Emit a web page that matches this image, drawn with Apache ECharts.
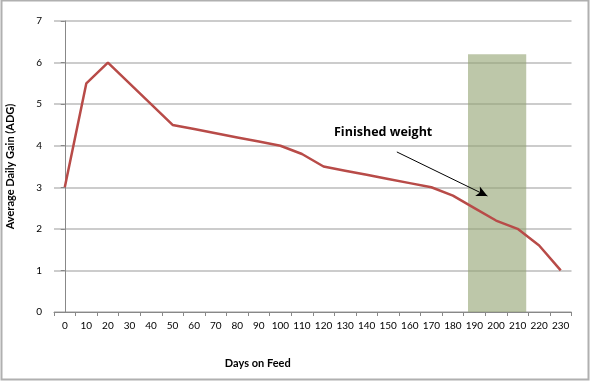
<!DOCTYPE html>
<html><head><meta charset="utf-8">
<script src="https://cdn.jsdelivr.net/npm/echarts@6/dist/echarts.min.js"></script>
<style>html,body{margin:0;padding:0;background:#fff}#c{width:591px;height:382px}</style>
</head><body><div id="c"></div>
<script>
const days = ['0','10','20','30','40','50','60','70','80','90','100','110','120','130','140','150','160','170','180','190','200','210','220','230'];
const adg = [3.0,5.5,6.0,5.5,5.0,4.5,4.4,4.3,4.2,4.1,4.0,3.8,3.5,3.4,3.3,3.2,3.1,3.0,2.8,2.5,2.2,2.0,1.6,1.0];
const finishedRange = [187, 214];   // days
const finishedTop = 6.2;
const arrowFrom = [154, 3.85];
const arrowTo = [196, 2.79];

const chart = echarts.init(document.getElementById('c'), null, {renderer:'canvas'});
const font = 'Lato, "Open Sans", sans-serif';
chart.setOption({
  animation:false,
  backgroundColor:'#fff',
  grid:{left:54, right:19.5, top:21, bottom:70, containLabel:false, outerBoundsMode:'none'},
  graphic:[
    {type:'rect', shape:{x:1.5,y:0.5,width:587,height:379}, style:{fill:'none', stroke:'#b0b0b0', lineWidth:2}, z:-1},
    {type:'text', left:334, top:126, style:{text:'Finished weight', font:'bold 12.5px "Open Sans", sans-serif', fill:'#000'}}
  ],
  xAxis:[{
    type:'category', data:days, boundaryGap:true,
    name:'Days on Feed', nameLocation:'middle', nameGap:46,
    nameTextStyle:{fontFamily:font, fontWeight:'bold', fontSize:11, color:'#000', padding:[0,0,0,-110]},
    axisLine:{lineStyle:{color:'#888', width:1}},
    axisTick:{show:true, length:4, lineStyle:{color:'#888'}},
    axisLabel:{fontFamily:font, fontSize:10, color:'#000', margin:9, interval:0},
    splitLine:{show:false}
  },{
    type:'value', min:-5, max:235, show:false
  }],
  yAxis:{
    type:'value', min:0, max:7, interval:1,
    name:'Average Daily Gain (ADG)', nameLocation:'middle', nameGap:38, nameRotate:90,
    nameTextStyle:{fontFamily:font, fontWeight:'bold', fontSize:11, color:'#000'},
    axisLine:{show:true, lineStyle:{color:'#888', width:1}},
    axisTick:{show:true, length:4, lineStyle:{color:'#888'}},
    axisLabel:{fontFamily:font, fontSize:10, color:'#000', margin:12},
    splitLine:{lineStyle:{color:'#bbbbbb', width:1.5}}
  },
  series:[{
    type:'line', data:adg, symbol:'none',
    lineStyle:{color:'#b84b48', width:2.5}, z:2
  },{
    type:'line', xAxisIndex:1, data:[], z:5,
    markArea:{silent:true, itemStyle:{color:'rgba(145,162,112,0.6)'},
      data:[[{xAxis:finishedRange[0], yAxis:0},{xAxis:finishedRange[1], yAxis:finishedTop}]]},
    markLine:{silent:true, symbol:['none','arrow'], symbolSize:[8,11],
      lineStyle:{color:'#000', width:1, type:'solid'}, label:{show:false},
      data:[[{coord:arrowFrom},{coord:arrowTo}]]}
  }]
});
</script></body></html>
